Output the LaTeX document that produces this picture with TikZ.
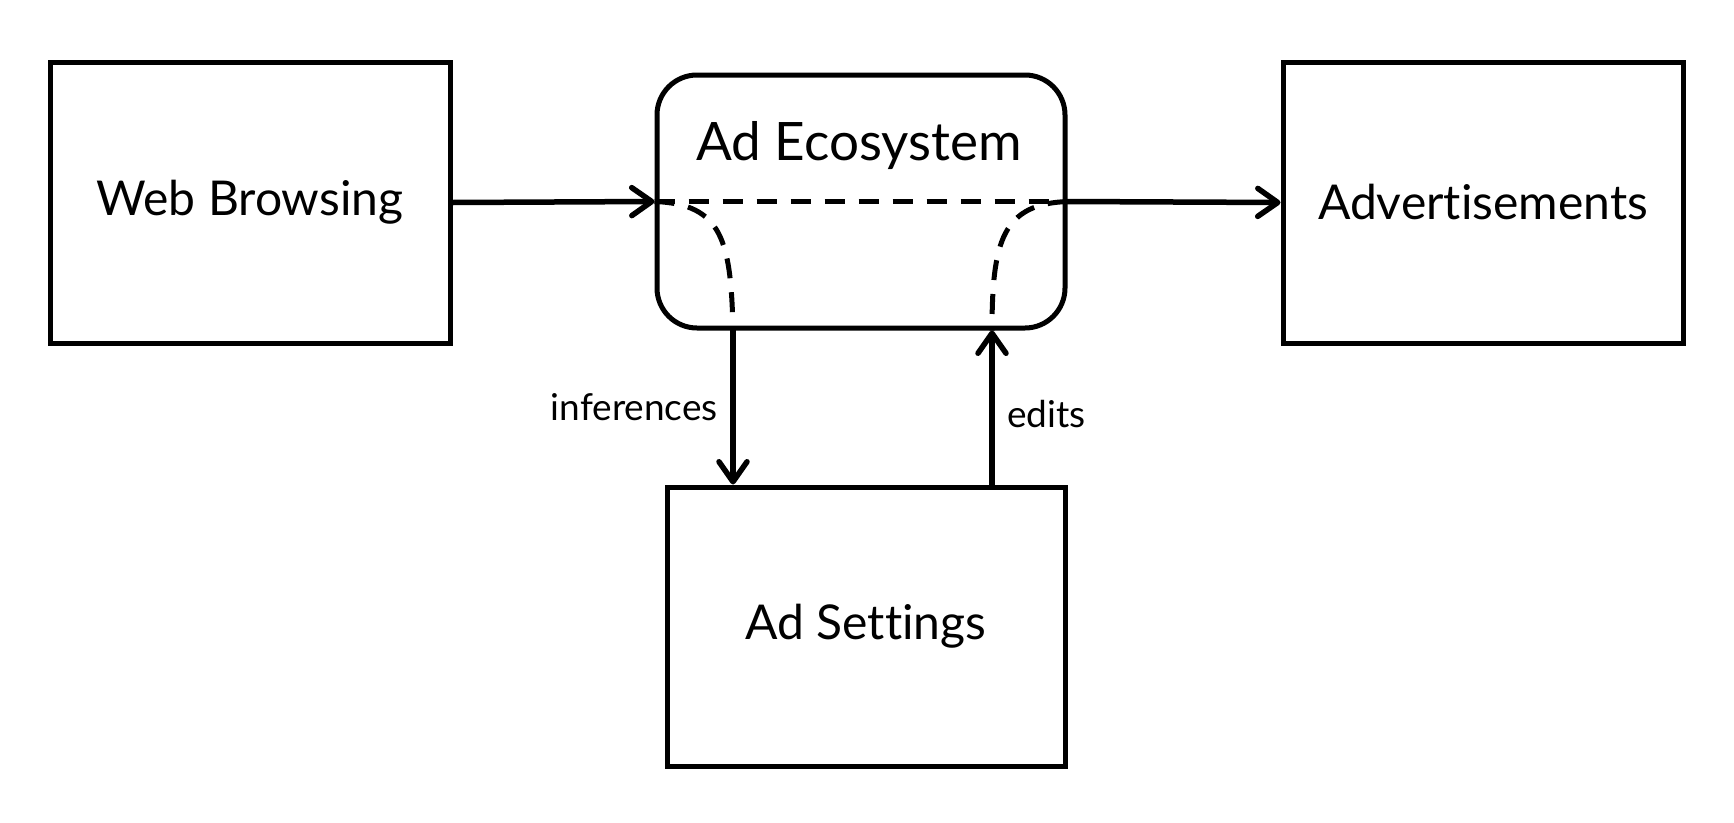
\documentclass[tikz,border=0pt]{standalone}
\usepackage{fontspec}
\setmainfont{Lato}[Ligatures={NoCommon,NoRare,NoContextual}]
\usetikzlibrary{arrows.meta}
\begin{document}
\begin{tikzpicture}[x=1pt,y=-1pt,
  box/.style={draw,line width=5pt,inner sep=0pt,font=\fontsize{48}{54}\selectfont},
  arr/.style={line width=5.5pt,line cap=round,-{Straight Barb[length=20pt,width=28pt,line width=5.5pt,round]}},
  dsh/.style={line width=5pt,dash pattern=on 20pt off 14pt},
  lab/.style={font=\fontsize{37}{42}\selectfont,inner sep=0pt}]
\useasboundingbox (0,0) rectangle (1734,822);
\node[box,minimum width=400pt,minimum height=281pt] (web) at (250,202.5) {Web Browsing};
\node[box,minimum width=400pt,minimum height=281pt] (ads) at (1483,202.5) {Advertisements};
\node[box,minimum width=408pt,minimum height=253pt,rounded corners=40pt] (eco) at (861,201.5) {};
\node[box,draw=none,anchor=base,font=\fontsize{53}{58}\selectfont] (ecolab) at (859,160) {Ad Ecosystem};
\node[box,minimum width=398pt,minimum height=279pt] (set) at (866,626.5) {\raisebox{-7pt}{Ad Settings}};
\coordinate (ix) at (733,0);
\coordinate (ex) at (992,0);
\draw[arr] (web.east) -- (eco.west);
\draw[arr] (eco.east) -- (ads.west);
\draw[arr] (ix |- eco.south) -- (ix |- set.north);
\draw[arr] (ex |- set.north) -- (ex |- eco.south);
\draw[dsh] (eco.west) -- (eco.east);
\draw[dsh] (eco.west) .. controls (722,204) and (731,240) .. (ix |- eco.south);
\draw[dsh] (eco.east) .. controls (1003,204) and (992,240) .. (ex |- eco.south);
\node[lab,anchor=base east] (inf) at (718,420) {inferences};
\node[lab,anchor=base west] (edl) at (1007,427) {edits};
\end{tikzpicture}
\end{document}
